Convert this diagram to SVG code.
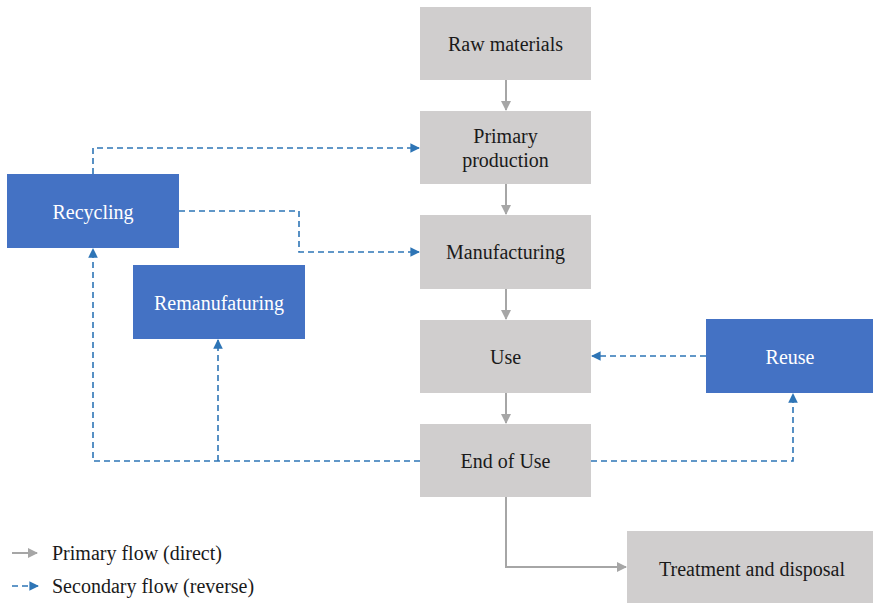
<svg xmlns="http://www.w3.org/2000/svg" width="873" height="603" viewBox="0 0 873 603" font-family="'Liberation Serif', 'Times New Roman', Tinos, 'Noto Serif', 'DejaVu Serif', serif">
  <style>
    .stage rect { fill: #d0cece; }
    .loop rect { fill: #4472c4; }
    text { font-size: 20px; text-anchor: middle; }
    .stage text { fill: #1a1a1a; }
    .loop text { fill: #ffffff; }
    .direct { fill: none; stroke: #a6a6a6; stroke-width: 2; }
    .reverse { fill: none; stroke: #2e75b6; stroke-width: 1.6; stroke-dasharray: 6 4; }
    .legend { text-anchor: start; fill: #1a1a1a; }
  </style>
  <defs>
    <marker id="grayHead" viewBox="0 0 10 10" refX="9" refY="5" markerWidth="5" markerHeight="5" orient="auto" markerUnits="strokeWidth">
      <path d="M0,0 L10,5 L0,10 z" fill="#a6a6a6"/>
    </marker>
    <marker id="blueHead" viewBox="0 0 10 10" refX="9" refY="5" markerWidth="6" markerHeight="6" orient="auto" markerUnits="strokeWidth">
      <path d="M0,0 L10,5 L0,10 z" fill="#2e75b6"/>
    </marker>
  </defs>

  <rect width="873" height="603" fill="#ffffff"/>

  <!-- connectors -->
  <g id="connectors">
    <line class="direct" x1="506" y1="80" x2="506" y2="110" marker-end="url(#grayHead)"/>
    <line class="direct" x1="506" y1="184" x2="506" y2="214" marker-end="url(#grayHead)"/>
    <line class="direct" x1="506" y1="289" x2="506" y2="319" marker-end="url(#grayHead)"/>
    <line class="direct" x1="506" y1="393" x2="506" y2="423" marker-end="url(#grayHead)"/>
    <polyline class="direct" points="506,497 506,567 626,567" marker-end="url(#grayHead)"/>

    <polyline class="reverse" points="93,174 93,148 419,148" marker-end="url(#blueHead)"/>
    <polyline class="reverse" points="179,211 299,211 299,252 419,252" marker-end="url(#blueHead)"/>
    <line class="reverse" x1="706" y1="356" x2="592" y2="356" marker-end="url(#blueHead)"/>
    <polyline class="reverse" points="420,461 93,461 93,249" marker-end="url(#blueHead)"/>
    <line class="reverse" x1="218" y1="461" x2="218" y2="340" marker-end="url(#blueHead)"/>
    <polyline class="reverse" points="591,461 793,461 793,394" marker-end="url(#blueHead)"/>
  </g>

  <!-- main life-cycle stages -->
  <g id="raw-materials" class="stage">
    <rect x="420" y="7" width="171" height="73"/>
    <text x="505.5" y="51">Raw materials</text>
  </g>
  <g id="primary-production" class="stage">
    <rect x="420" y="111" width="171" height="73"/>
    <text x="505.5" y="143">Primary</text>
    <text x="505.5" y="167">production</text>
  </g>
  <g id="manufacturing" class="stage">
    <rect x="420" y="215" width="171" height="74"/>
    <text x="505.5" y="259">Manufacturing</text>
  </g>
  <g id="use" class="stage">
    <rect x="420" y="320" width="171" height="73"/>
    <text x="505.5" y="364">Use</text>
  </g>
  <g id="end-of-use" class="stage">
    <rect x="420" y="424" width="171" height="73"/>
    <text x="505.5" y="468">End of Use</text>
  </g>
  <g id="treatment-disposal" class="stage">
    <rect x="627" y="531" width="246" height="72"/>
    <text x="752" y="576">Treatment and disposal</text>
  </g>

  <!-- reverse-flow loops -->
  <g id="recycling" class="loop">
    <rect x="7" y="174" width="172" height="74"/>
    <text x="93" y="219">Recycling</text>
  </g>
  <g id="remanufacturing" class="loop">
    <rect x="133" y="265" width="172" height="74"/>
    <text x="219" y="310">Remanufaturing</text>
  </g>
  <g id="reuse" class="loop">
    <rect x="706" y="319" width="167" height="74"/>
    <text x="790" y="364">Reuse</text>
  </g>

  <!-- legend -->
  <g id="legend">
    <line class="direct" x1="12" y1="553" x2="37" y2="553" marker-end="url(#grayHead)"/>
    <text class="legend" x="52" y="560">Primary flow (direct)</text>
    <line class="reverse" x1="12" y1="586" x2="38" y2="586" stroke-dasharray="5 3" marker-end="url(#blueHead)"/>
    <text class="legend" x="52" y="593">Secondary flow (reverse)</text>
  </g>
</svg>
